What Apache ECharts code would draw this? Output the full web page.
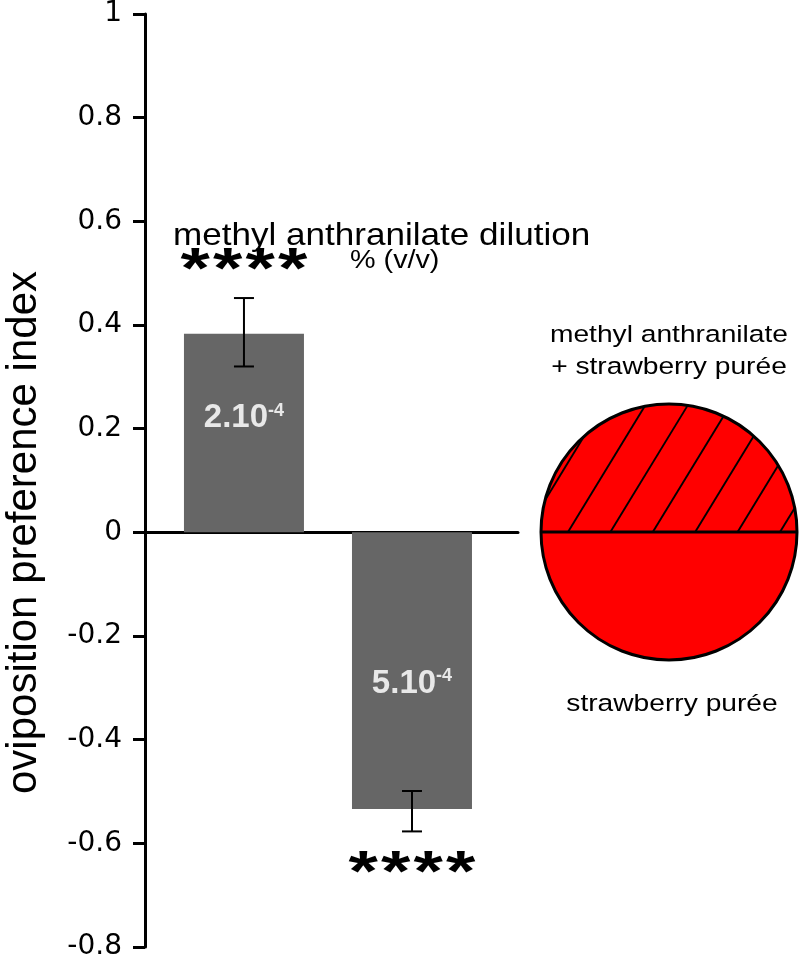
<!DOCTYPE html>
<html><head><meta charset="utf-8">
<script src="https://cdn.jsdelivr.net/npm/echarts@6/dist/echarts.min.js"></script>
<style>html,body{margin:0;padding:0;background:#fff}#chart{width:800px;height:957px}</style>
</head><body><div id="chart"></div>
<script>
// ---- data ----
const dilutionMantissa = ['2.10', '5.10'];
const dilutionExponent = ['-4', '-4'];
const barPositions = [0, 1];
const meanIndex = [0.383, -0.534];
const errLow = [0.320, -0.577];
const errHigh = [0.452, -0.499];
const significance = ['****', '****'];
const yMin = -0.8, yMax = 1, yStep = 0.2;
const yAxisTitle = 'oviposition preference index';
const headerLine1 = 'methyl anthranilate dilution';
const headerLine2 = '% (v/v)';
const treatedLabel = ['methyl anthranilate', '+ strawberry purée'];
const controlLabel = 'strawberry purée';

const chart = echarts.init(document.getElementById('chart'), null, {renderer: 'canvas'});
const AX = 'Liberation Sans';
const SX = 1.15;

// legend circle graphics
const cx = 669, cy = 532, R = 128;
const ang = 58.6 * Math.PI / 180;
const d = [Math.cos(ang), -Math.sin(ang)];
const hatch = [];
for (let k = -3; k <= 8; k++) {
  const x0 = 568 + k * 42.4;
  const wx = x0 - cx;
  const wd = wx * d[0];
  const disc = wd * wd - wx * wx + R * R;
  if (disc <= 0) continue;
  const s = Math.sqrt(disc);
  let t1 = -wd - s, t2 = -wd + s;
  if (t2 <= 0) continue;
  t1 = Math.max(0, t1);
  hatch.push({type: 'line', shape: {x1: x0 + t1 * d[0], y1: cy + t1 * d[1], x2: x0 + t2 * d[0], y2: cy + t2 * d[1]},
    style: {stroke: '#000', lineWidth: 1.9}});
}

const graphic = [
  {type: 'circle', shape: {cx, cy, r: R}, style: {fill: '#ff0000'}},
  ...hatch,
  {type: 'line', shape: {x1: cx - R, y1: cy, x2: cx + R, y2: cy}, style: {stroke: '#000', lineWidth: 3}},
  {type: 'circle', shape: {cx, cy, r: R}, style: {fill: null, stroke: '#000', lineWidth: 3}},
  {type: 'text', x: 173, y: 237, scaleX: SX, style: {text: headerLine1, x: 0, y: 0, verticalAlign: 'middle', font: '30.5px "Liberation Sans"', fill: '#000'}},
  {type: 'text', x: 350, y: 261, scaleX: SX, style: {text: headerLine2, x: 0, y: 0, verticalAlign: 'middle', font: '25px "Liberation Sans"', fill: '#000'}},
  {type: 'text', x: 669, y: 335, scaleX: SX, style: {text: treatedLabel[0], x: 0, y: 0, align: 'center', verticalAlign: 'middle', font: '24.5px "Liberation Sans"', fill: '#000'}},
  {type: 'text', x: 669, y: 367, scaleX: SX, style: {text: treatedLabel[1], x: 0, y: 0, align: 'center', verticalAlign: 'middle', font: '24.5px "Liberation Sans"', fill: '#000'}},
  {type: 'text', x: 672, y: 704, scaleX: SX, style: {text: controlLabel, x: 0, y: 0, align: 'center', verticalAlign: 'middle', font: '24.5px "Liberation Sans"', fill: '#000'}}
];

const labelOffsets = [[0, -15], [0, 13]];

const option = {
  animation: false,
  backgroundColor: '#fff',
  grid: {left: 145, right: 282, top: 14, bottom: 10, containLabel: false, outerBoundsMode: 'none'},
  xAxis: {
    type: 'value', min: -0.589, max: 1.631,
    axisLine: {show: true, onZero: true, lineStyle: {color: '#000', width: 3}},
    axisTick: {show: false}, axisLabel: {show: false}, splitLine: {show: false}
  },
  yAxis: {
    type: 'value', min: yMin, max: yMax, interval: yStep,
    name: yAxisTitle, nameLocation: 'middle', nameRotate: 90, nameGap: 100,
    nameTextStyle: {fontFamily: AX, fontSize: 42, color: '#000', padding: [0, 104, 0, 0]},
    axisLine: {show: true, onZero: false, lineStyle: {color: '#000', width: 3}},
    axisTick: {show: true, length: 12, lineStyle: {color: '#000', width: 3}},
    axisLabel: {margin: 23, fontFamily: 'DejaVu Sans', fontSize: 28, color: '#000'},
    splitLine: {show: false}
  },
  series: [
    {
      type: 'bar', barWidth: 120,
      itemStyle: {color: '#666666'},
      data: barPositions.map((x, i) => ({value: [x, meanIndex[i]], label: {offset: labelOffsets[i]}})),
      label: {
        show: true, position: 'inside',
        formatter: p => '{m|' + dilutionMantissa[p.dataIndex] + '}{e|' + dilutionExponent[p.dataIndex] + '}',
        rich: {
          m: {fontFamily: AX, fontWeight: 'bold', fontSize: 33, color: '#e8e8e8'},
          e: {fontFamily: AX, fontWeight: 'bold', fontSize: 18, color: '#e8e8e8', verticalAlign: 'top'}
        },
        textBorderWidth: 0
      }
    },
    {
      type: 'custom',
      data: barPositions.map((x, i) => [x, errLow[i], errHigh[i], meanIndex[i]]),
      renderItem: (params, api) => {
        const x = api.value(0), lo = api.value(1), hi = api.value(2), m = api.value(3);
        const pHi = api.coord([x, hi]), pLo = api.coord([x, lo]);
        const cap = 10;
        const st = {stroke: '#000', lineWidth: 2};
        const starY = m >= 0 ? pHi[1] - 26 : pLo[1] + 44;
        const stars = significance[params.dataIndex].split('');
        const pitch = 32.5;
        const starEls = stars.map((c, j) => ({
          type: 'text', x: pHi[0] + (j - (stars.length - 1) / 2) * pitch, y: starY, scaleX: 1.3,
          style: {text: c, x: 0, y: 0, align: 'center', verticalAlign: 'middle',
            font: 'bold 58px "Liberation Sans"', fill: '#000'}
        }));
        return {type: 'group', children: [
          {type: 'line', shape: {x1: pHi[0], y1: pHi[1], x2: pLo[0], y2: pLo[1]}, style: st},
          {type: 'line', shape: {x1: pHi[0] - cap, y1: pHi[1], x2: pHi[0] + cap, y2: pHi[1]}, style: st},
          {type: 'line', shape: {x1: pLo[0] - cap, y1: pLo[1], x2: pLo[0] + cap, y2: pLo[1]}, style: st},
          ...starEls
        ]};
      },
      z: 5
    }
  ],
  graphic
};
chart.setOption(option);
</script></body></html>
